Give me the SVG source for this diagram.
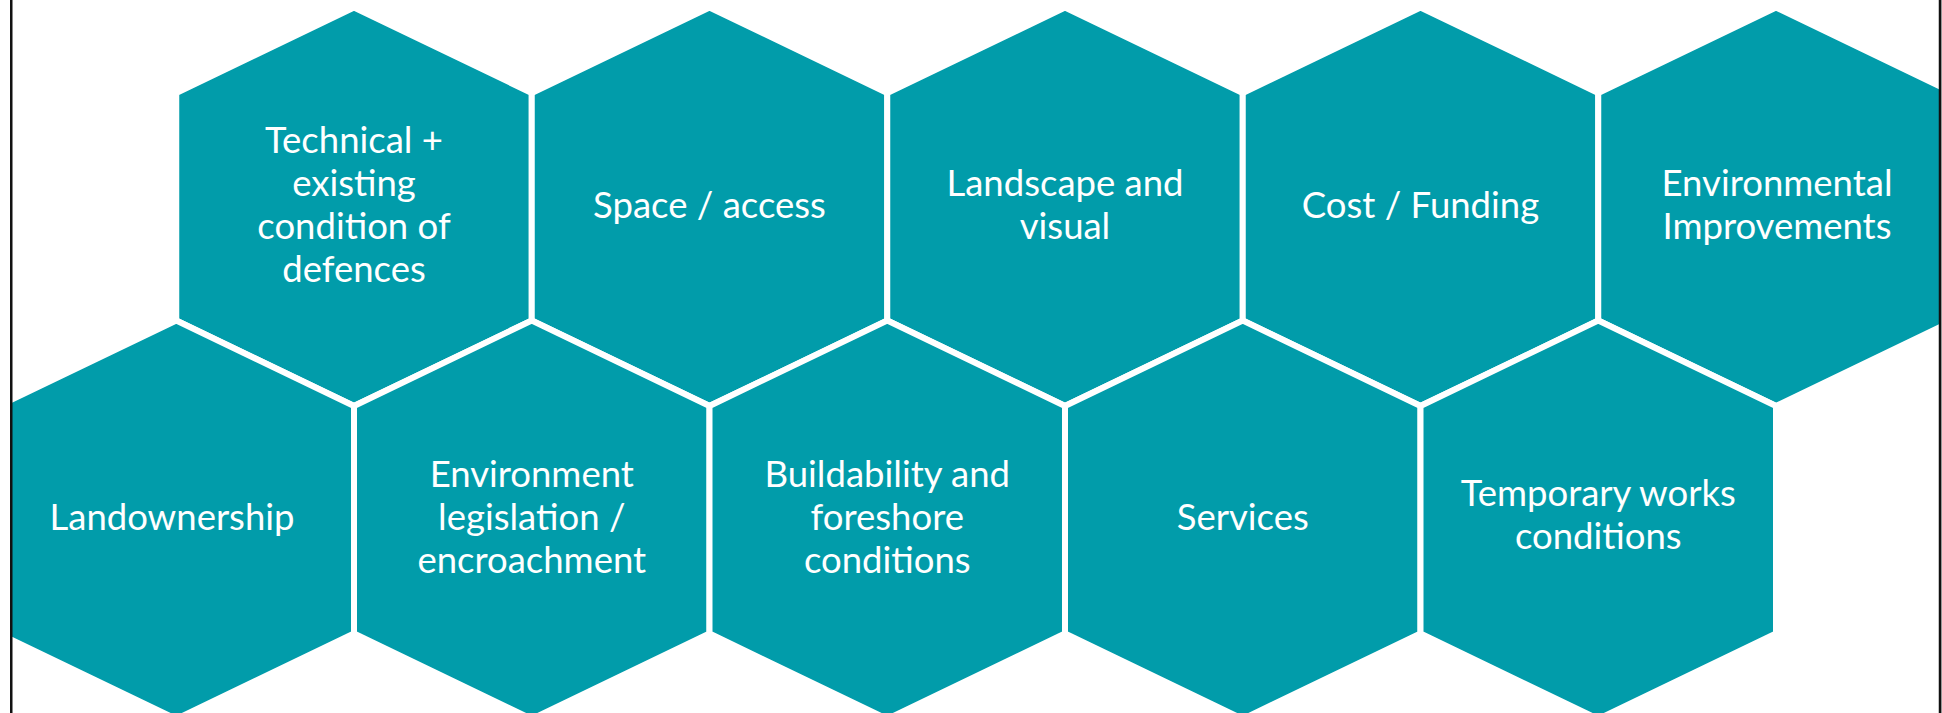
<svg xmlns="http://www.w3.org/2000/svg" xmlns:xlink="http://www.w3.org/1999/xlink" width="1942" height="713" viewBox="0 0 1942 713">
  <style>
    .hex { fill: #019CAA; stroke: #ffffff; stroke-width: 6; stroke-linejoin: miter; }
    .label { font-family: "Lato", "Liberation Sans", sans-serif; font-size: 36.5px; fill: #ffffff; text-anchor: middle; }
    .frame { stroke: #111111; stroke-width: 2.5; }
  </style>
  <defs>
    <!-- pointy-top hexagon centred on the origin -->
    <polygon id="hexShape" points="0,-199.25 177.75,-113.75 177.75,113.75 0,199.25 -177.75,113.75 -177.75,-113.75"/>
    <clipPath id="panel">
      <rect x="11" y="0" width="1929" height="713"/>
    </clipPath>
  </defs>

  <rect x="0" y="0" width="1942" height="713" fill="#ffffff"/>

  <g id="nodes" clip-path="url(#panel)">
    <!-- upper row -->
    <g id="technical">
      <use xlink:href="#hexShape" class="hex" transform="translate(354,206.75)"/>
      <text class="label"><tspan x="354" y="153">Technical +</tspan><tspan x="354" y="196">existing</tspan><tspan x="354" y="239">condition of</tspan><tspan x="354" y="282">defences</tspan></text>
    </g>
    <g id="space-access">
      <use xlink:href="#hexShape" class="hex" transform="translate(709.5,206.75)"/>
      <text class="label" x="709.5" y="218">Space / access</text>
    </g>
    <g id="landscape">
      <use xlink:href="#hexShape" class="hex" transform="translate(1065,206.75)"/>
      <text class="label"><tspan x="1065" y="196">Landscape and</tspan><tspan x="1065" y="239">visual</tspan></text>
    </g>
    <g id="cost-funding">
      <use xlink:href="#hexShape" class="hex" transform="translate(1420.5,206.75)"/>
      <text class="label" x="1420.5" y="218">Cost / Funding</text>
    </g>
    <g id="env-improvements">
      <use xlink:href="#hexShape" class="hex" transform="translate(1776,206.75)"/>
      <text class="label"><tspan x="1777" y="196">Environmental</tspan><tspan x="1777" y="239">Improvements</tspan></text>
    </g>

    <!-- lower row -->
    <g id="landownership">
      <use xlink:href="#hexShape" class="hex" transform="translate(176.25,519.75)"/>
      <text class="label" x="172" y="530">Landownership</text>
    </g>
    <g id="env-legislation">
      <use xlink:href="#hexShape" class="hex" transform="translate(531.75,519.75)"/>
      <text class="label"><tspan x="531.75" y="487">Environment</tspan><tspan x="531.75" y="530">legislation /</tspan><tspan x="531.75" y="573">encroachment</tspan></text>
    </g>
    <g id="buildability">
      <use xlink:href="#hexShape" class="hex" transform="translate(887.25,519.75)"/>
      <text class="label"><tspan x="887.25" y="487">Buildability and</tspan><tspan x="887.25" y="530">foreshore</tspan><tspan x="887.25" y="573">conditions</tspan></text>
    </g>
    <g id="services">
      <use xlink:href="#hexShape" class="hex" transform="translate(1242.75,519.75)"/>
      <text class="label" x="1242.75" y="530">Services</text>
    </g>
    <g id="temporary-works">
      <use xlink:href="#hexShape" class="hex" transform="translate(1598.25,519.75)"/>
      <text class="label"><tspan x="1598.25" y="506">Temporary works</tspan><tspan x="1598.25" y="549">conditions</tspan></text>
    </g>
  </g>

  <g id="connectors"/>

  <!-- page frame edges -->
  <g id="frame">
    <line class="frame" x1="11.25" y1="0" x2="11.25" y2="713"/>
    <line class="frame" x1="1940" y1="0" x2="1940" y2="713"/>
    <rect x="1941.25" y="0" width="0.75" height="713" fill="#888888"/>
  </g>
</svg>
